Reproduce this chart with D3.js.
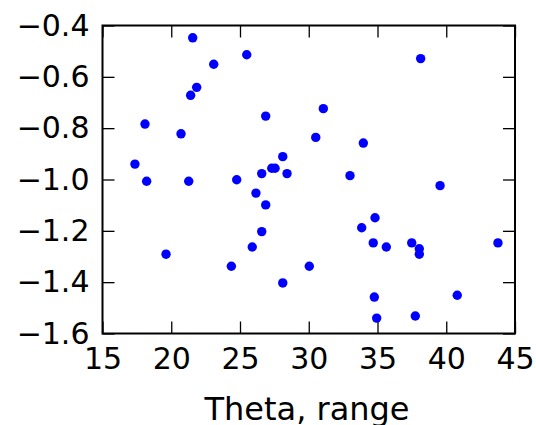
<!DOCTYPE html>
<html>
<head>
<meta charset="utf-8">
<script src="https://cdn.jsdelivr.net/npm/d3@7"></script>
<style>
  html, body { margin: 0; padding: 0; background: #fff; }
  svg text { font-family: "DejaVu Sans", sans-serif; fill: #000; }
</style>
</head>
<body>
<svg id="chart" width="536" height="425"></svg>
<script>
// Scatter samples: theta range vs. response
const thetaRange = [
  21.56, 25.49, 23.09, 38.14, 21.85, 21.41, 31.06, 26.87, 18.09, 20.71,
  30.51, 33.97, 28.11, 17.36, 27.31, 27.55, 26.58, 28.42, 33.00, 18.21,
  21.27, 24.76, 39.55, 26.16, 26.87, 34.82, 33.85, 26.58, 34.69, 35.64,
  37.49, 38.04, 38.04, 43.76, 19.62, 25.89, 24.37, 30.04, 28.11, 34.77,
  40.80, 34.94, 37.75
];
const response = [
  -0.448, -0.514, -0.551, -0.529, -0.641, -0.672, -0.724, -0.753, -0.784, -0.822,
  -0.836, -0.858, -0.911, -0.940, -0.956, -0.956, -0.977, -0.977, -0.985, -1.007,
  -1.007, -1.001, -1.024, -1.053, -1.099, -1.149, -1.188, -1.203, -1.247, -1.263,
  -1.247, -1.270, -1.291, -1.247, -1.291, -1.263, -1.338, -1.338, -1.403, -1.458,
  -1.451, -1.540, -1.532
];
const xTicks = [15, 20, 25, 30, 35, 40, 45];
const yTicks = [-0.4, -0.6, -0.8, -1.0, -1.2, -1.4, -1.6];
const xLabel = "Theta, range";

const svg = d3.select("#chart");
const m = { left: 102.5, top: 25.5, right: 21, bottom: 91.5 };
const W = 536 - m.left - m.right;
const H = 425 - m.top - m.bottom;

const x = d3.scaleLinear().domain([15, 45]).range([0, W]);
const y = d3.scaleLinear().domain([-1.6, -0.4]).range([H, 0]);

const g = svg.append("g").attr("transform", `translate(${m.left},${m.top})`);

const fmtY = d => d3.format(".1f")(d).replace("-", "\u2212");
const tickLen = 12;

function styleAxis(sel, showText) {
  sel.select(".domain").remove();
  sel.selectAll(".tick line").attr("stroke", "#000").attr("stroke-width", 1.3);
  sel.selectAll(".tick text").attr("font-size", 30).style("display", showText ? null : "none");
}

g.append("g")
  .attr("transform", `translate(0,${H})`)
  .call(d3.axisBottom(x).tickValues(xTicks).tickSize(-tickLen).tickPadding(14).tickFormat(d3.format("d")))
  .call(s => styleAxis(s, true));

g.append("g")
  .call(d3.axisTop(x).tickValues(xTicks).tickSize(-tickLen))
  .call(s => styleAxis(s, false));

g.append("g")
  .call(d3.axisLeft(y).tickValues(yTicks).tickSize(-tickLen).tickPadding(13).tickFormat(fmtY))
  .call(s => styleAxis(s, true));

g.append("g")
  .attr("transform", `translate(${W},0)`)
  .call(d3.axisRight(y).tickValues(yTicks).tickSize(-tickLen))
  .call(s => styleAxis(s, false));

// points
g.append("g")
  .selectAll("circle")
  .data(thetaRange.map((t, i) => [t, response[i]]))
  .join("circle")
  .attr("cx", d => x(d[0]))
  .attr("cy", d => y(d[1]))
  .attr("r", 4.7)
  .attr("fill", "#0000ff");

// axes frame
g.append("rect")
  .attr("x", 0).attr("y", 0)
  .attr("width", W).attr("height", H)
  .attr("fill", "none")
  .attr("stroke", "#000")
  .attr("stroke-width", 2);

svg.append("text")
  .attr("x", 307)
  .attr("y", 420)
  .attr("text-anchor", "middle")
  .attr("font-size", 32)
  .text(xLabel);
</script>
</body>
</html>
